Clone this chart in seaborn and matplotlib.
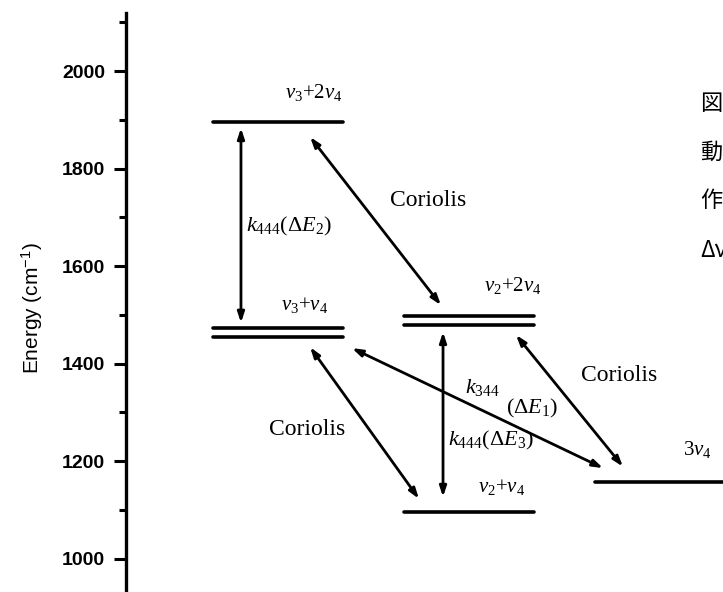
import matplotlib
matplotlib.use('Agg')
import matplotlib.pyplot as plt
import seaborn as sns
import pandas as pd

# Energy levels (cm^-1), column of the diagram they sit in
level_names = ['v3+2v4', 'v3+v4 (a)', 'v3+v4 (b)', 'v2+2v4 (a)', 'v2+2v4 (b)', 'v2+v4', '3v4']
level_columns = [1, 1, 1, 2, 2, 2, 3]
level_energies = [1895, 1473, 1455, 1498, 1479, 1096, 1158]
level_halfwidth = 0.34

yticks_major = [1000, 1200, 1400, 1600, 1800, 2000]
yticks_minor = [1100, 1300, 1500, 1700, 1900, 2100]

side_text = ['図', '動', '作', 'Δν']

sns.set_theme(style='ticks')
plt.rcParams['font.family'] = ['Liberation Sans', 'Noto Sans CJK JP', 'DejaVu Sans']
plt.rcParams['mathtext.fontset'] = 'custom'
plt.rcParams['mathtext.rm'] = 'Liberation Serif'
plt.rcParams['mathtext.it'] = 'Liberation Serif:italic'

rows = []
for name, col, e in zip(level_names, level_columns, level_energies):
    rows.append({'level': name, 'x': col - level_halfwidth, 'E': e})
    rows.append({'level': name, 'x': col + level_halfwidth, 'E': e})
df = pd.DataFrame(rows)

fig = plt.figure(figsize=(7.23, 5.92), dpi=100)
ax = fig.add_axes([126 / 723, 0, (723 - 126) / 723, 1 - 13 / 592])

sns.lineplot(data=df, x='x', y='E', units='level', estimator=None,
             color='black', linewidth=2.6, ax=ax, legend=False)

ax.set_xlim(0.204, 3.33)
ax.set_ylim(932, 2119)

# axis styling
for s in ['top', 'right', 'bottom']:
    ax.spines[s].set_visible(False)
ax.spines['left'].set_linewidth(2.4)
ax.spines['left'].set_color('black')
ax.set_xticks([])
ax.set_xlabel('')
ax.set_yticks(yticks_major)
ax.set_yticks(yticks_minor, minor=True)
ax.tick_params(axis='y', which='major', length=9, width=2.2, direction='out',
               labelsize=14, pad=6, colors='black')
ax.tick_params(axis='y', which='minor', length=5, width=2.2, direction='out', colors='black')
for lab in ax.get_yticklabels():
    lab.set_fontweight('bold')
ax.set_ylabel('Energy (cm$^{\\mathregular{-1}}$)', fontsize=15, color='black')
ax.yaxis.set_label_coords(-0.135, 0.49)


def arrow(p0, p1):
    ax.annotate('', xy=p1, xytext=p0,
                arrowprops=dict(arrowstyle='<|-|>,head_length=0.6,head_width=0.2',
                                lw=2.0, color='black', shrinkA=0, shrinkB=0,
                                mutation_scale=10))


arrow((0.806, 1484), (0.806, 1883))
arrow((1.168, 1865), (1.853, 1520))
arrow((1.168, 1434), (1.738, 1123))
arrow((1.864, 1127), (1.864, 1465))
arrow((1.387, 1432), (2.702, 1186))
arrow((2.246, 1459), (2.806, 1189))

serif = dict(family='Liberation Serif', color='black', ha='center', va='center')
ax.text(1.188, 1957, r'$\nu_3$+2$\nu_4$', fontsize=15, **serif)
ax.text(1.141, 1520, r'$\nu_3$+$\nu_4$', fontsize=15, **serif)
ax.text(2.230, 1561, r'$\nu_2$+2$\nu_4$', fontsize=15, **serif)
ax.text(2.173, 1148, r'$\nu_2$+$\nu_4$', fontsize=15, **serif)
ax.text(3.194, 1225, r'3$\nu_4$', fontsize=15, **serif)

ax.text(1.785, 1734, 'Coriolis', fontsize=17, **serif)
ax.text(1.152, 1266, 'Coriolis', fontsize=17, **serif)
ax.text(2.785, 1375, 'Coriolis', fontsize=17, **serif)

ax.text(1.058, 1682, r'$k_{444}(\Delta E_2)$', fontsize=16, **serif)
ax.text(2.068, 1352, r'$k_{344}$', fontsize=16, **serif)
ax.text(2.330, 1309, r'$(\Delta E_1)$', fontsize=16, **serif)
ax.text(2.115, 1242, r'$k_{444}(\Delta E_3)$', fontsize=16, **serif)

# Japanese caption text, cut off at the right edge as in the source
for i, t in enumerate(side_text):
    fig.text(700 / 723, 1 - (103 + 49 * i) / 592, t, fontsize=16,
             family=['Noto Sans CJK JP', 'DejaVu Sans'], ha='left', va='center',
             color='black')

fig.savefig('out.png', dpi=100)
